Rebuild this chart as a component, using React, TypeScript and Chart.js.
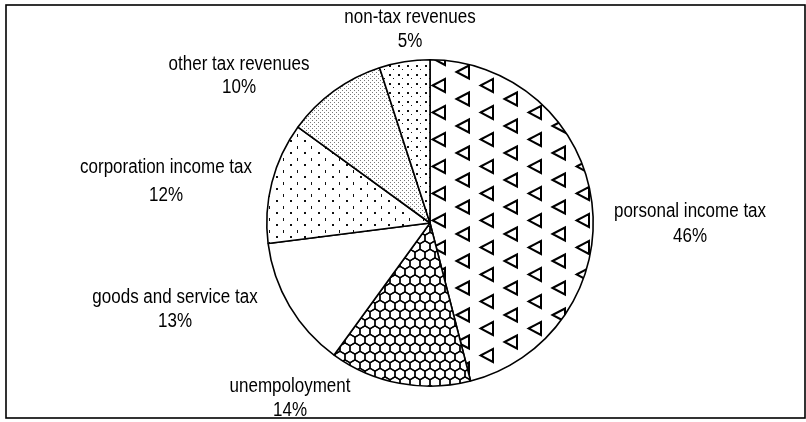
import React, { useEffect, useRef } from "react";
import { Chart, registerables } from "chart.js";

Chart.register(...registerables);

const categories = [
  "porsonal income tax",
  "unempoloyment",
  "goods and service tax",
  "corporation income tax",
  "other tax revenues",
  "non-tax revenues",
];
const shares = [46, 14, 13, 12, 10, 5];
const percentLabels = ["46%", "14%", "13%", "12%", "10%", "5%"];

// label layout: [dx from pie centre, baseline dy of name, baseline dy of percent]
const labelLayout: [number, number, number][] = [
  [260, -6, 19],
  [-140, 169, 193],
  [-255, 80, 104],
  [-264, -50, -22],
  [-191, -153, -130],
  [-20, -200, -176],
];

const FONT = "20px 'Liberation Sans', Arial, sans-serif";
const NARROW = 0.85;

function makePattern(w: number, h: number, draw: (c: CanvasRenderingContext2D) => void) {
  const cv = document.createElement("canvas");
  cv.width = w;
  cv.height = h;
  const c = cv.getContext("2d")!;
  c.fillStyle = "#fff";
  c.fillRect(0, 0, w, h);
  draw(c);
  return c.createPattern(cv, "repeat")!;
}

function trianglePattern() {
  return makePattern(48, 27, (c) => {
    c.strokeStyle = "#000";
    c.lineWidth = 2;
    const tri = (cx: number, cy: number) => {
      c.beginPath();
      c.moveTo(cx - 6.5, cy);
      c.lineTo(cx + 6, cy - 6.5);
      c.lineTo(cx + 6, cy + 6.5);
      c.closePath();
      c.stroke();
    };
    for (const oy of [-27, 0, 27]) {
      tri(31, 18 + oy);
      tri(7, 4.5 + oy);
      tri(55, 4.5 + oy);
    }
  });
}

function hexPattern() {
  return makePattern(10, 17, (c) => {
    c.strokeStyle = "#000";
    c.lineWidth = 1.3;
    const hex = (cx: number, cy: number) => {
      c.beginPath();
      c.moveTo(cx, cy - 5.67);
      c.lineTo(cx + 5, cy - 2.83);
      c.lineTo(cx + 5, cy + 2.83);
      c.lineTo(cx, cy + 5.67);
      c.lineTo(cx - 5, cy + 2.83);
      c.lineTo(cx - 5, cy - 2.83);
      c.closePath();
      c.stroke();
    };
    for (const cx of [0, 10]) {
      hex(cx, 0);
      hex(cx, 17);
    }
    hex(5, 8.5);
    hex(-5, 8.5);
    hex(15, 8.5);
  });
}

function stipplePattern() {
  return makePattern(4, 4, (c) => {
    c.fillStyle = "#777";
    c.fillRect(0, 0, 1, 1);
    c.fillRect(2, 2, 1, 1);
  });
}

function dashPattern() {
  return makePattern(14, 12, (c) => {
    c.fillStyle = "#111";
    c.fillRect(3, 2, 1, 3);
    c.fillRect(10, 8, 2, 2);
  });
}

function sparseDotPattern() {
  return makePattern(9, 9, (c) => {
    c.fillStyle = "#111";
    c.fillRect(2, 2, 2, 2);
    c.fillRect(6, 6, 1, 1);
  });
}

export default function App() {
  const ref = useRef<HTMLCanvasElement | null>(null);

  useEffect(() => {
    if (!ref.current) return;
    const fills = [
      trianglePattern(),
      hexPattern(),
      "#ffffff",
      dashPattern(),
      stipplePattern(),
      sparseDotPattern(),
    ];

    const bgPlugin = {
      id: "bgframe",
      beforeDraw(chart: any) {
        const c = chart.ctx;
        c.save();
        c.fillStyle = "#fff";
        c.fillRect(0, 0, chart.width, chart.height);
        c.restore();
      },
      afterDraw(chart: any) {
        const c = chart.ctx;
        c.save();
        c.strokeStyle = "#000";
        c.lineWidth = 1.6;
        c.strokeRect(6, 5, 799, 413);
        c.restore();
      },
    };

    const labelPlugin = {
      id: "sliceLabels",
      afterDatasetsDraw(chart: any) {
        const meta = chart.getDatasetMeta(0);
        const arc = meta.data[0];
        if (!arc) return;
        const cx = arc.x;
        const cy = arc.y;
        const c = chart.ctx;
        c.save();
        c.font = FONT;
        c.fillStyle = "#000";
        c.textAlign = "center";
        c.textBaseline = "alphabetic";
        const draw = (t: string, x: number, y: number) => {
          c.save();
          c.translate(x, y);
          c.scale(NARROW, 1);
          c.fillText(t, 0, 0);
          c.restore();
        };
        categories.forEach((name, i) => {
          const [dx, dy1, dy2] = labelLayout[i];
          draw(name, cx + dx, cy + dy1);
          draw(percentLabels[i], cx + dx, cy + dy2);
        });
        c.restore();
      },
    };

    const chart = new Chart(ref.current, {
      type: "pie",
      data: {
        labels: categories,
        datasets: [
          {
            data: shares,
            backgroundColor: fills as any,
            borderColor: "#000",
            borderWidth: 1.6,
          },
        ],
      },
      options: {
        responsive: false,
        animation: false,
        layout: { padding: { top: 59, bottom: 35, left: 100, right: 46 } },
        plugins: {
          legend: { display: false },
          tooltip: { enabled: false },
        },
      },
      plugins: [bgPlugin, labelPlugin],
    });
    return () => chart.destroy();
  }, []);

  return (
    <div style={{ position: "absolute", left: 0, top: 0, width: 806, height: 422 }}>
      <canvas ref={ref} width={806} height={422} style={{ display: "block" }} />
    </div>
  );
}
